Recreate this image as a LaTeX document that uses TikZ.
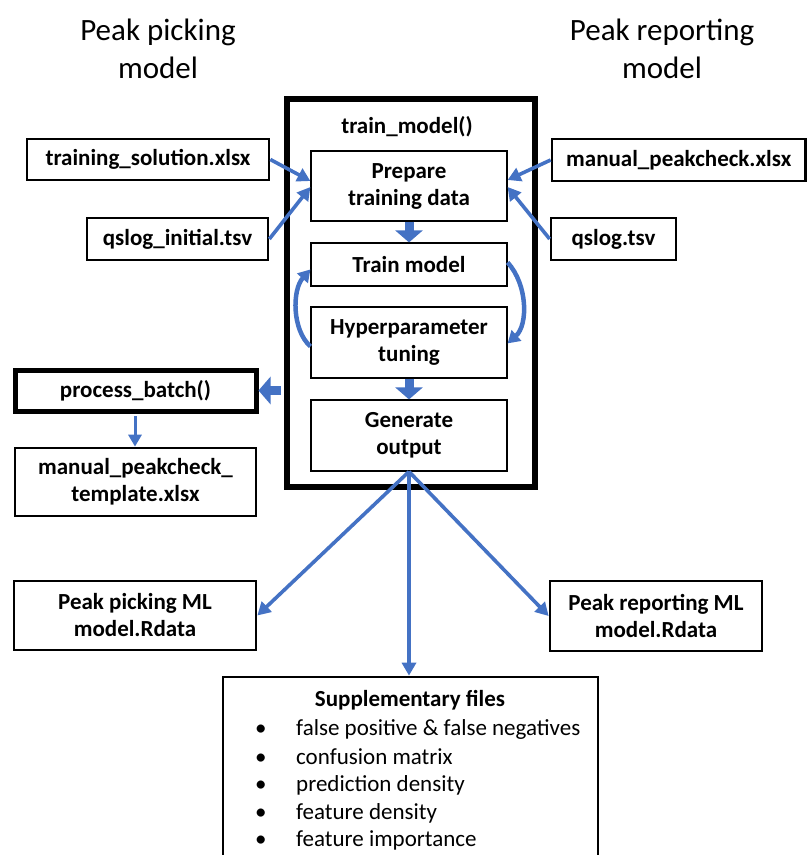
\documentclass[tikz,border=0pt]{standalone}
\usepackage{fontspec}
\setmainfont{Carlito}
\usetikzlibrary{arrows.meta,calc}
\definecolor{ablue}{HTML}{4472C4}
\newcommand\fsb{\fontsize{23}{27}\selectfont}
\newcommand\fst{\fontsize{31}{38}\selectfont}
\tikzset{
  box/.style={draw, line width=2.7pt, inner sep=0pt, align=center, font=\fsb\bfseries},
  thickbox/.style={box, line width=5pt},
  bigbox/.style={draw, line width=6pt, inner sep=0pt},
  inbox/.style={box, line width=1.2pt},
  sz/.style 2 args={minimum width=#1pt, minimum height=#2pt},
  conn/.style={draw=ablue, line width=3.6pt, -{Triangle[width=14pt,length=13pt]}},
  fat/.style={draw=ablue, line width=9pt, -{Triangle[width=27pt,length=12pt]}},
  loop/.style={draw=ablue, line width=4.5pt, -{Triangle[width=14pt,length=12pt]}},
  lbl/.style={font=\fsb\bfseries, inner sep=0pt},
  item/.style={font=\fsb, inner sep=0pt, anchor=base west}
}
\begin{document}
\begin{tikzpicture}[x=1pt,y=-1pt]
\useasboundingbox (0,0) rectangle (807,855);
\clip (0,0) rectangle (807,855);
% titles
\node[font=\fst, align=center, inner sep=0pt] (tl) at (158,49) {Peak picking\\model};
\node[font=\fst, align=center, inner sep=0pt] (tr) at (662,49) {Peak reporting\\model};
% big box
\node[bigbox, sz={248}{388}] (big) at (411,293) {};
\node[lbl] (tmlbl) at (407,127) {train\_model()};
\node[inbox, sz={196}{70}] (prep) at (409,186) {Prepare\\training data};
\node[inbox, sz={196}{43}] (trn) at (409,264.5) {Train model};
\node[inbox, sz={196}{71}] (hyp) at (409,342.5) {Hyperparameter\\tuning};
\node[inbox, sz={196}{71}] (gen) at (409,435.5) {Generate\\output};
% inputs
\node[box, sz={242}{41}] (ts) at (148,159.5) {training\_solution.xlsx};
\node[box, sz={181}{42}] (qi) at (177.5,239) {qslog\_initial.tsv};
\node[box, sz={253.5}{42}] (mp) at (678.75,160) {manual\_peakcheck.xlsx};
\node[box, sz={125}{42}] (qs) at (613.5,239) {qslog.tsv};
% left process
\node[thickbox, sz={241}{41}] (pb) at (135.5,390.5) {process\_batch()};
\node[box, sz={241}{68}] (tp) at (135.5,482) {manual\_peakcheck\_\\template.xlsx};
% outputs
\node[box, sz={242}{69}] (ppm) at (135,615.5) {Peak picking ML\\model.Rdata};
\node[box, sz={212}{70}] (prm) at (656,616) {Peak reporting ML\\model.Rdata};
\node[box, sz={375}{198}] (supp) at (410.5,776) {};
\node[lbl] (supt) at (410,700) {Supplementary files};
\foreach \yy/\tt [count=\i] in {735/false positive \& false negatives,764/confusion matrix,791/prediction density,819/feature density,846/feature importance}{
  \node[item] (b\i) at (255,\yy) {•};
  \node[item] (t\i) at (296,\yy) {\tt};
}
% connectors
\draw[conn] (ts.east) -- ([yshift=5pt]prep.west);
\draw[conn] (qi.east) -- ([yshift=-1pt]prep.west);
\draw[conn] (mp.west) -- ([yshift=6pt]prep.east);
\draw[conn] (qs.west) -- ([yshift=-1pt]prep.east);
\draw[fat] (prep.south) -- (trn.north);
\draw[fat] (hyp.south) -- (gen.north);
\draw[loop] ([yshift=-20pt]trn.north east) .. controls (528,285) and (528,325) .. ([yshift=-37pt]hyp.north east);
\draw[loop] ([yshift=-40pt]hyp.north west) .. controls (292,330) and (292,290) .. ([yshift=-27pt]trn.north west);
\draw[fat] ([xshift=-3pt]big.west |- pb.east) -- (pb.east);
\draw[draw=ablue, line width=3pt, -{Triangle[width=13pt,length=12pt]}] ([yshift=-2.5pt]pb.south -| 135,0) -- (tp.north -| 135,0);
\draw[conn] (gen.south) -- (ppm.east);
\draw[conn] (gen.south) -- (prm.west);
\draw[conn] (gen.south) -- (supp.north -| gen.south);
\end{tikzpicture}
\end{document}
